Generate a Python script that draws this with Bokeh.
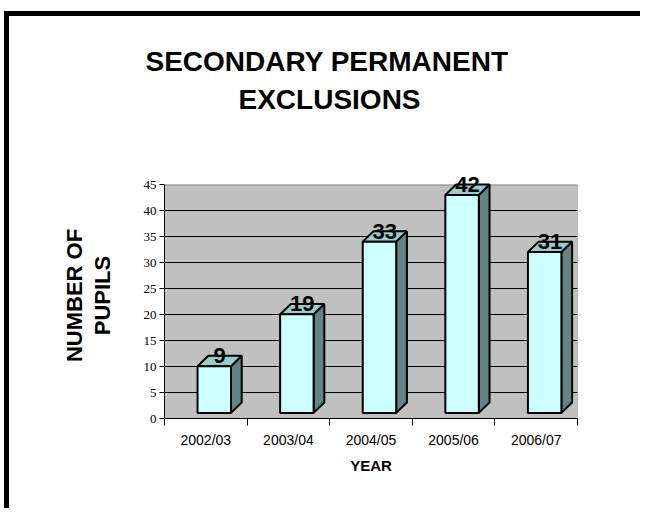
from bokeh.plotting import figure
from bokeh.models import Range1d, FixedTicker, ColumnDataSource, LabelSet, Title, LinearAxis
from bokeh.core.properties import value
from bokeh.embed import file_html
from bokeh.resources import INLINE

# ---- data ----
categories = ["2002/03", "2003/04", "2004/05", "2005/06", "2006/07"]
values = [9, 19, 33, 42, 31]
y_ticks = list(range(0, 50, 5))
title_lines = ["SECONDARY PERMANENT", "EXCLUSIONS"]

# ---- 3D bar styling (in axis units) ----
bar_left = 0.40      # front-face left edge inside each category slot
bar_w = 0.405        # front-face width
depth_dx = 0.13      # oblique depth, x
depth_dy = 2.0       # oblique depth, y
base = 1.08          # floor offset of front face
label_gap = 0.55
headroom = 2.4       # space above the wall for the value labels

n = len(categories)
L = [i + bar_left for i in range(n)]
R = [l + bar_w for l in L]
B = [base] * n
T = [base + v for v in values]

p = figure(width=636, height=497, output_backend="svg", toolbar_location=None,
           x_range=Range1d(0, n), y_range=Range1d(y_ticks[0], y_ticks[-1] + headroom),
           min_border_left=155, min_border_right=68, min_border_top=156, min_border_bottom=95,
           background_fill_color="white", border_fill_color="white",
           outline_line_color=None)
p.title = None
# thick frame of the chart object (top and left edges visible in the window)
p.styles = {"margin-left": "4px", "margin-top": "11px",
            "border-left": "5px solid black", "border-top": "5px solid black"}

# back wall
p.quad(left=0, right=n, bottom=y_ticks[0], top=y_ticks[-1],
       fill_color="#C0C0C0", line_color="#808080", line_width=1, level="image")

# grid
p.xgrid.visible = False
p.ygrid.ticker = FixedTicker(ticks=y_ticks[1:-1])
p.ygrid.grid_line_color = "black"
p.ygrid.grid_line_width = 1

# y axis
yax = p.yaxis[0]
yax.ticker = FixedTicker(ticks=y_ticks)
yax.bounds = (y_ticks[0], y_ticks[-1])
yax.major_tick_out = 5
yax.major_tick_in = 0
yax.minor_tick_line_color = None
yax.axis_line_color = "black"
yax.major_label_text_font = "Liberation Serif"
yax.major_label_text_font_size = "13px"
yax.major_label_text_color = "black"
yax.major_label_standoff = 3
yax.axis_label = "NUMBER OF\nPUPILS"
yax.axis_label_text_font = "Liberation Sans"
yax.axis_label_text_font_style = "bold"
yax.axis_label_text_font_size = "22px"
yax.axis_label_text_line_height = 1.1
yax.axis_label_text_color = "black"
yax.axis_label_standoff = 26

# x axis: labels at centres, tick marks at slot boundaries
xax = p.xaxis[0]
centers = [i + 0.5 for i in range(n)]
xax.ticker = FixedTicker(ticks=centers, minor_ticks=list(range(n + 1)))
xax.major_label_overrides = {c: cat for c, cat in zip(centers, categories)}
xax.major_tick_out = 0
xax.major_tick_in = 0
xax.minor_tick_out = 7
xax.minor_tick_in = 0
xax.minor_tick_line_color = "black"
xax.axis_line_color = "black"
xax.major_label_text_font = "Liberation Sans"
xax.major_label_text_font_size = "14px"
xax.major_label_text_color = "black"
xax.major_label_standoff = 6
xax.axis_label = "YEAR"
xax.axis_label_text_font = "Liberation Sans"
xax.axis_label_text_font_style = "bold"
xax.axis_label_text_font_size = "15px"
xax.axis_label_text_color = "black"
xax.axis_label_standoff = 6

# empty spacer between the frame and the title (one invisible tick at the range start)
spacer = LinearAxis(ticker=FixedTicker(ticks=[0]), major_label_overrides={0: ""},
                    major_tick_out=55, major_tick_in=0, major_label_standoff=0,
                    minor_tick_out=0, minor_tick_in=0,
                    axis_line_color=None, major_tick_line_color=None,
                    minor_tick_line_color=None)
p.add_layout(spacer, "above")

# title (two centred lines)
def make_title(text, offset, standoff):
    return Title(text=text, align="left", offset=offset, standoff=standoff,
                 text_font="Liberation Sans", text_font_style="bold",
                 text_font_size="28px", text_color="black")

p.add_layout(make_title(title_lines[1], 74, 5), "above")
p.add_layout(make_title(title_lines[0], -19, 5), "above")

# 3D bars
side_xs = [[r, r + depth_dx, r + depth_dx, r] for r in R]
side_ys = [[b, b + depth_dy, t + depth_dy, t] for b, t in zip(B, T)]
top_xs = [[l, r, r + depth_dx, l + depth_dx] for l, r in zip(L, R)]
top_ys = [[t, t, t + depth_dy, t + depth_dy] for t in T]

p.patches(side_xs, side_ys, fill_color="#638484", line_color="black", line_width=2)
p.patches(top_xs, top_ys, fill_color="#99CCCC", line_color="black", line_width=2)
p.quad(left=L, right=R, bottom=B, top=T, fill_color="#CCFFFF", line_color="black", line_width=2)

lbl_src = ColumnDataSource(dict(
    x=[l + bar_w / 2 + depth_dx / 2 for l in L],
    y=[t + label_gap for t in T],
    txt=[str(v) for v in values]))
p.add_layout(LabelSet(x="x", y="y", text="txt", source=lbl_src, text_align="center",
                      text_baseline="alphabetic", text_font=value("Liberation Sans"),
                      text_font_style="bold", text_font_size="22px", text_color="black"))

open("out.html", "w").write(file_html(p, INLINE))
